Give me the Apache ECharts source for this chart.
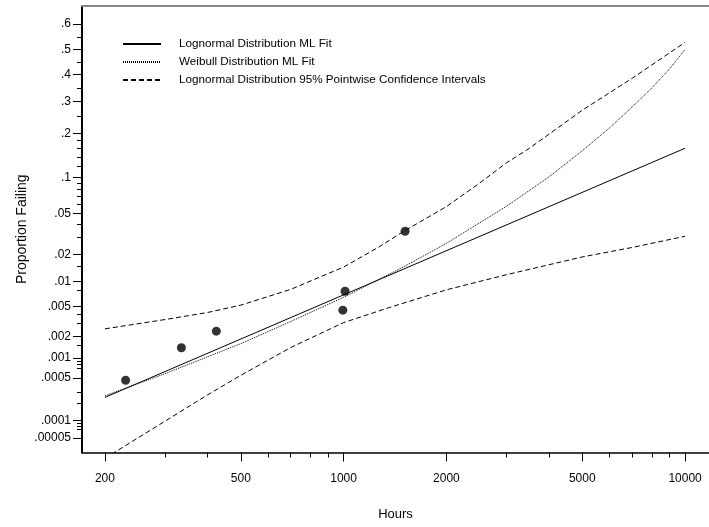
<!DOCTYPE html>
<html>
<head>
<meta charset="utf-8">
<script src="https://cdn.jsdelivr.net/npm/echarts@6/dist/echarts.min.js"></script>
<style>
  html, body { margin: 0; padding: 0; background: #fff; }
  #chart { width: 709px; height: 527px; }
</style>
</head>
<body>
<div id="chart"></div>
<script>
// failure times and plotting positions
const failHours = [230, 335, 424, 995, 1010, 1514]
const failProp = [0.00046, 0.0014, 0.00238, 0.0045, 0.0077, 0.0342]

// lognormal ML fit (straight line on this paper)
const lnFitHours = [200, 10000]
const lnFitProp = [0.000245, 0.161]

// weibull ML fit
const wbHours = [200, 300, 500, 700, 1000, 1500, 2000, 3000, 4000, 5000, 6000, 7000, 8000, 9000, 10000]
const wbProp = [0.00026, 0.00058, 0.0016, 0.0032, 0.0065, 0.0147, 0.026, 0.058, 0.101, 0.155, 0.215, 0.282, 0.35, 0.422, 0.5]

// 95% pointwise confidence bands
const upperHours = [200, 300, 400, 500, 700, 1000, 1270, 1500, 2000, 2500, 3000, 3430, 4000, 5000, 7000, 10000]
const upperProp = [0.00256, 0.0034, 0.0042, 0.0052, 0.0081, 0.0146, 0.0239, 0.0342, 0.0576, 0.09, 0.128, 0.156, 0.198, 0.271, 0.386, 0.528]
const lowerHours = [200, 300, 400, 500, 700, 1000, 1360, 2000, 3000, 5000, 7000, 10000]
const lowerProp = [0.000021, 0.000098, 0.00027, 0.000547, 0.00141, 0.0031, 0.00485, 0.008, 0.012, 0.0188, 0.0236, 0.0306]

// axis ticks
const yMajorTicks = [0.6, 0.5, 0.4, 0.3, 0.2, 0.1, 0.05, 0.02, 0.01, 0.005, 0.002, 0.001, 0.0005, 0.0001, 0.00005]
const yMajorLabels = ['.6', '.5', '.4', '.3', '.2', '.1', '.05', '.02', '.01', '.005', '.002', '.001', '.0005', '.0001', '.00005']
const yMinorTicks = [0.55, 0.45, 0.35, 0.25, 0.18, 0.16, 0.14, 0.12, 0.09, 0.08, 0.07, 0.06, 0.04, 0.03, 0.015,
  0.008, 0.004, 0.003, 0.0015, 0.0009, 0.0008, 0.0007, 0.0003, 0.0002, 0.00009, 0.00008, 0.00007]
const xMajorTicks = [200, 500, 1000, 2000, 5000, 10000]
const xMinorTicks = [300, 400, 600, 700, 800, 900, 3000, 4000, 6000, 7000, 8000, 9000]

const nameLn = 'Lognormal Distribution ML Fit'
const nameWb = 'Weibull Distribution ML Fit'
const nameCi = 'Lognormal Distribution 95% Pointwise Confidence Intervals'

// normal quantile (probability paper scale)
const qnorm = (p) => {
  const a = [-39.69683028665376, 220.9460984245205, -275.9285104469687, 138.357751867269, -30.66479806614716, 2.506628277459239]
  const b = [-54.47609879822406, 161.5858368580409, -155.6989798598866, 66.80131188771972, -13.28068155288572]
  const c = [-0.007784894002430293, -0.3223964580411365, -2.400758277161838, -2.549732539343734, 4.374664141464968, 2.938163982698783]
  const d = [0.007784695709041462, 0.3224671290700398, 2.445134137142996, 3.754408661907416]
  const pl = 0.02425
  if (p < pl) {
    const q = Math.sqrt(-2 * Math.log(p))
    return (((((c[0] * q + c[1]) * q + c[2]) * q + c[3]) * q + c[4]) * q + c[5]) / ((((d[0] * q + d[1]) * q + d[2]) * q + d[3]) * q + 1)
  }
  if (p > 1 - pl) {
    const q = Math.sqrt(-2 * Math.log(1 - p))
    return -(((((c[0] * q + c[1]) * q + c[2]) * q + c[3]) * q + c[4]) * q + c[5]) / ((((d[0] * q + d[1]) * q + d[2]) * q + d[3]) * q + 1)
  }
  const q = p - 0.5
  const r = q * q
  return (((((a[0] * r + a[1]) * r + a[2]) * r + a[3]) * r + a[4]) * r + a[5]) * q / (((((b[0] * r + b[1]) * r + b[2]) * r + b[3]) * r + b[4]) * r + 1)
}

const toXY = (hours, props) => hours.map((h, i) => [Math.log10(h), qnorm(props[i])])

const xMin = 2.234
const xMax = 4.07
const yMin = -4.038
const yMax = 0.434

const yMajorZ = yMajorTicks.map(qnorm)
const labelFont = { fontFamily: 'Liberation Sans, Arial, sans-serif', fontSize: 12, color: '#000' }

const chart = echarts.init(document.getElementById('chart'), null, { renderer: 'canvas' })

const lineBase = (name, data, type) => ({
  name,
  type: 'line',
  data,
  symbol: 'none',
  showSymbol: false,
  smooth: false,
  silent: true,
  itemStyle: { color: '#000' },
  lineStyle: { color: '#000', width: 1, type },
  z: 3
})

chart.setOption({
  animation: false,
  backgroundColor: '#fff',
  grid: {
    left: 82,
    top: 6,
    right: -2,
    bottom: 74.5,
    show: false
  },
  legend: {
    orient: 'vertical',
    left: 122,
    top: 38,
    padding: 0,
    itemWidth: 38,
    itemHeight: 12,
    itemGap: 6,
    selectedMode: false,
    itemStyle: { opacity: 0 },
    data: [nameLn, nameWb, nameCi],
    textStyle: { ...labelFont, fontSize: 11.7, padding: [0, 0, 0, 13] }
  },
  xAxis: [
    {
      type: 'value',
      min: xMin,
      max: xMax,
      name: 'Hours',
      nameLocation: 'middle',
      nameGap: 55,
      nameMoveOverlap: false,
      nameTextStyle: { ...labelFont, fontSize: 13 },
      axisLine: { onZero: false, lineStyle: { color: '#000', width: 1.5 } },
      axisTick: {
        length: 9,
        lineStyle: { color: '#000' },
        customValues: xMajorTicks.map(Math.log10)
      },
      axisLabel: {
        ...labelFont,
        margin: 20,
        customValues: xMajorTicks.map(Math.log10),
        formatter: (v) => String(Math.round(Math.pow(10, v)))
      },
      splitLine: { show: false }
    },
    {
      type: 'value',
      min: xMin,
      max: xMax,
      position: 'bottom',
      axisLine: { show: false, onZero: false },
      axisTick: {
        length: 5,
        lineStyle: { color: '#000' },
        customValues: xMinorTicks.map(Math.log10)
      },
      axisLabel: { show: false },
      splitLine: { show: false }
    },
    {
      type: 'value',
      min: xMin,
      max: xMax,
      position: 'top',
      axisLine: { show: true, onZero: false, lineStyle: { color: '#888', width: 2 } },
      axisTick: { show: false },
      axisLabel: { show: false },
      splitLine: { show: false }
    }
  ],
  yAxis: [
    {
      type: 'value',
      min: yMin,
      max: yMax,
      position: 'left',
      name: 'Proportion Failing',
      nameLocation: 'middle',
      nameGap: 53,
      nameMoveOverlap: false,
      nameTextStyle: { ...labelFont, fontSize: 14 },
      axisLine: { show: true, onZero: false, lineStyle: { color: '#000', width: 2 } },
      axisTick: {
        show: true,
        length: 9,
        lineStyle: { color: '#000' },
        customValues: yMajorZ
      },
      axisLabel: {
        ...labelFont,
        margin: 11,
        customValues: yMajorZ,
        formatter: (v) => {
          let best = 0
          yMajorZ.forEach((z, i) => { if (Math.abs(z - v) < Math.abs(yMajorZ[best] - v)) best = i })
          return yMajorLabels[best]
        }
      },
      splitLine: { show: false }
    },
    {
      type: 'value',
      min: yMin,
      max: yMax,
      position: 'left',
      offset: 0,
      axisLine: { show: false, onZero: false },
      axisTick: {
        show: true,
        length: 5,
        lineStyle: { color: '#000' },
        customValues: yMinorTicks.map(qnorm)
      },
      axisLabel: { show: false },
      splitLine: { show: false }
    }
  ],
  series: [
    lineBase(nameLn, toXY(lnFitHours, lnFitProp), 'solid'),
    lineBase(nameWb, toXY(wbHours, wbProp), [1, 1]),
    lineBase(nameCi, toXY(upperHours, upperProp), [5, 3]),
    lineBase(nameCi, toXY(lowerHours, lowerProp), [5, 3]),
    {
      name: 'Failures',
      type: 'scatter',
      data: toXY(failHours, failProp),
      symbol: 'circle',
      symbolSize: 9,
      itemStyle: { color: '#000' },
      silent: true,
      z: 4
    }
  ]
})
</script>
</body>
</html>
